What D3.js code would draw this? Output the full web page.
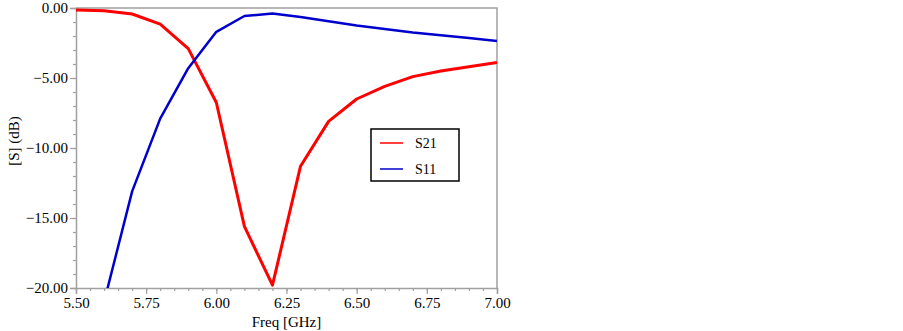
<!DOCTYPE html>
<html>
<head>
<meta charset="utf-8">
<script src="https://cdn.jsdelivr.net/npm/d3@7"></script>
<style>
  body { margin: 0; background: #fff; }
  svg text { font-family: "Liberation Serif", "Times New Roman", serif; }
</style>
</head>
<body>
<div id="chart"></div>
<script>
// --------------------------------------
//  data
// --------------------------------------

const freq = [5.5, 5.6, 5.7, 5.8, 5.9, 6.0, 6.1, 6.2, 6.3, 6.4, 6.5, 6.6, 6.7, 6.8, 6.9, 7.0];
const s21 = [-0.14, -0.2, -0.43, -1.15, -2.9, -6.75, -15.6, -19.8, -11.3, -8.1, -6.5, -5.6, -4.9, -4.5, -4.2, -3.9];
const s11 = [null, -21.0, -13.1, -7.9, -4.3, -1.7, -0.57, -0.4, -0.65, -0.95, -1.25, -1.5, -1.75, -1.95, -2.15, -2.35];

const xTicks = [5.5, 5.75, 6.0, 6.25, 6.5, 6.75, 7.0];
const yTicks = [0, -5, -10, -15, -20];

const series = [
  { name: "S21", values: s21, color: "#ff0000" },
  { name: "S11", values: s11, color: "#0000cc" }
];

// --------------------------------------
//  canvas
// --------------------------------------

const width = 903, height = 331;
const margin = { top: 8, right: 406, bottom: 43, left: 76 };
const innerwidth = width - margin.left - margin.right;
const innerheight = height - margin.top - margin.bottom;

const svg = d3.select("#chart")
  .append("svg")
    .attr("width", width)
    .attr("height", height);

const inner = svg.append("g")
    .attr("transform", `translate(${margin.left}, ${margin.top})`);

// --------------------------------------
//  scales
// --------------------------------------

const x = d3.scaleLinear().domain([5.5, 7.0]).range([0, innerwidth]);
const y = d3.scaleLinear().domain([-20, 0]).range([innerheight, 0]);

// --------------------------------------
//  axes
// --------------------------------------

const axisColor = "#a0a0a0";
const serif = "Liberation Serif, Times New Roman, serif";

// minor ticks
inner.append("g")
    .attr("transform", `translate(0, ${innerheight})`)
    .call(d3.axisBottom(x).ticks(30).tickSize(3).tickFormat(""))
    .call(g => g.select(".domain").remove());

inner.append("g")
    .call(d3.axisLeft(y).ticks(20).tickSize(3).tickFormat(""))
    .call(g => g.select(".domain").remove());

// major ticks
inner.append("g")
    .attr("class", "x-axis")
    .attr("transform", `translate(0, ${innerheight})`)
    .call(d3.axisBottom(x).tickValues(xTicks).tickFormat(d3.format(".2f")).tickSize(6).tickPadding(3))
    .attr("font-family", serif)
    .attr("font-size", 15);

inner.append("g")
    .attr("class", "y-axis")
    .call(d3.axisLeft(y).tickValues(yTicks).tickFormat(d3.format(".2f")).tickSize(6).tickPadding(2))
    .attr("font-family", serif)
    .attr("font-size", 15);

inner.selectAll(".tick line").attr("stroke", axisColor).attr("stroke-width", 1.2);
inner.selectAll(".domain").attr("stroke", axisColor).attr("stroke-width", 1.5);
inner.selectAll(".tick text").attr("fill", "#000");

// frame top/right
inner.append("path")
    .attr("d", `M0,0H${innerwidth}V${innerheight}`)
    .attr("fill", "none")
    .attr("stroke", axisColor)
    .attr("stroke-width", 1.5);

// axis titles
svg.append("text")
    .attr("x", margin.left + x(6.25))
    .attr("y", 327)
    .attr("text-anchor", "middle")
    .style("font-size", "15px")
    .text("Freq [GHz]");

svg.append("text")
    .attr("transform", `translate(19, ${margin.top + y(-9.5)}) rotate(-90)`)
    .attr("text-anchor", "middle")
    .style("font-size", "15px")
    .text("[S] (dB)");

// --------------------------------------
//  lines
// --------------------------------------

inner.append("clipPath")
    .attr("id", "clip")
  .append("rect")
    .attr("width", innerwidth)
    .attr("height", innerheight);

const line = d3.line()
    .defined(d => d[1] !== null)
    .x(d => x(d[0]))
    .y(d => y(d[1]));

inner.append("g")
    .attr("clip-path", "url(#clip)")
  .selectAll(".curve")
  .data(series)
  .join("path")
    .attr("class", "curve")
    .attr("fill", "none")
    .attr("stroke", d => d.color)
    .attr("stroke-width", d => d.name === "S21" ? 3 : 2.5)
    .attr("stroke-linejoin", "round")
    .attr("d", d => line(freq.map((f, i) => [f, d.values[i]])));

// --------------------------------------
//  legend
// --------------------------------------

const legend = svg.append("g")
    .attr("transform", "translate(371, 129)");

legend.append("rect")
    .attr("width", 88)
    .attr("height", 52)
    .attr("fill", "#fff")
    .attr("stroke", "#000")
    .attr("stroke-width", 1.5);

legend.selectAll(".item")
  .data(series)
  .join("g")
    .attr("class", "item")
    .attr("transform", (d, i) => `translate(0, ${14 + i * 26})`)
    .each(function (d) {
      const g = d3.select(this);
      g.append("line")
          .attr("x1", 9).attr("x2", 32)
          .attr("stroke", d.color)
          .attr("stroke-width", 1.5);
      g.append("text")
          .attr("x", 44)
          .attr("y", 5)
          .style("font-size", "14px")
          .text(d.name);
    });
</script>
</body>
</html>
